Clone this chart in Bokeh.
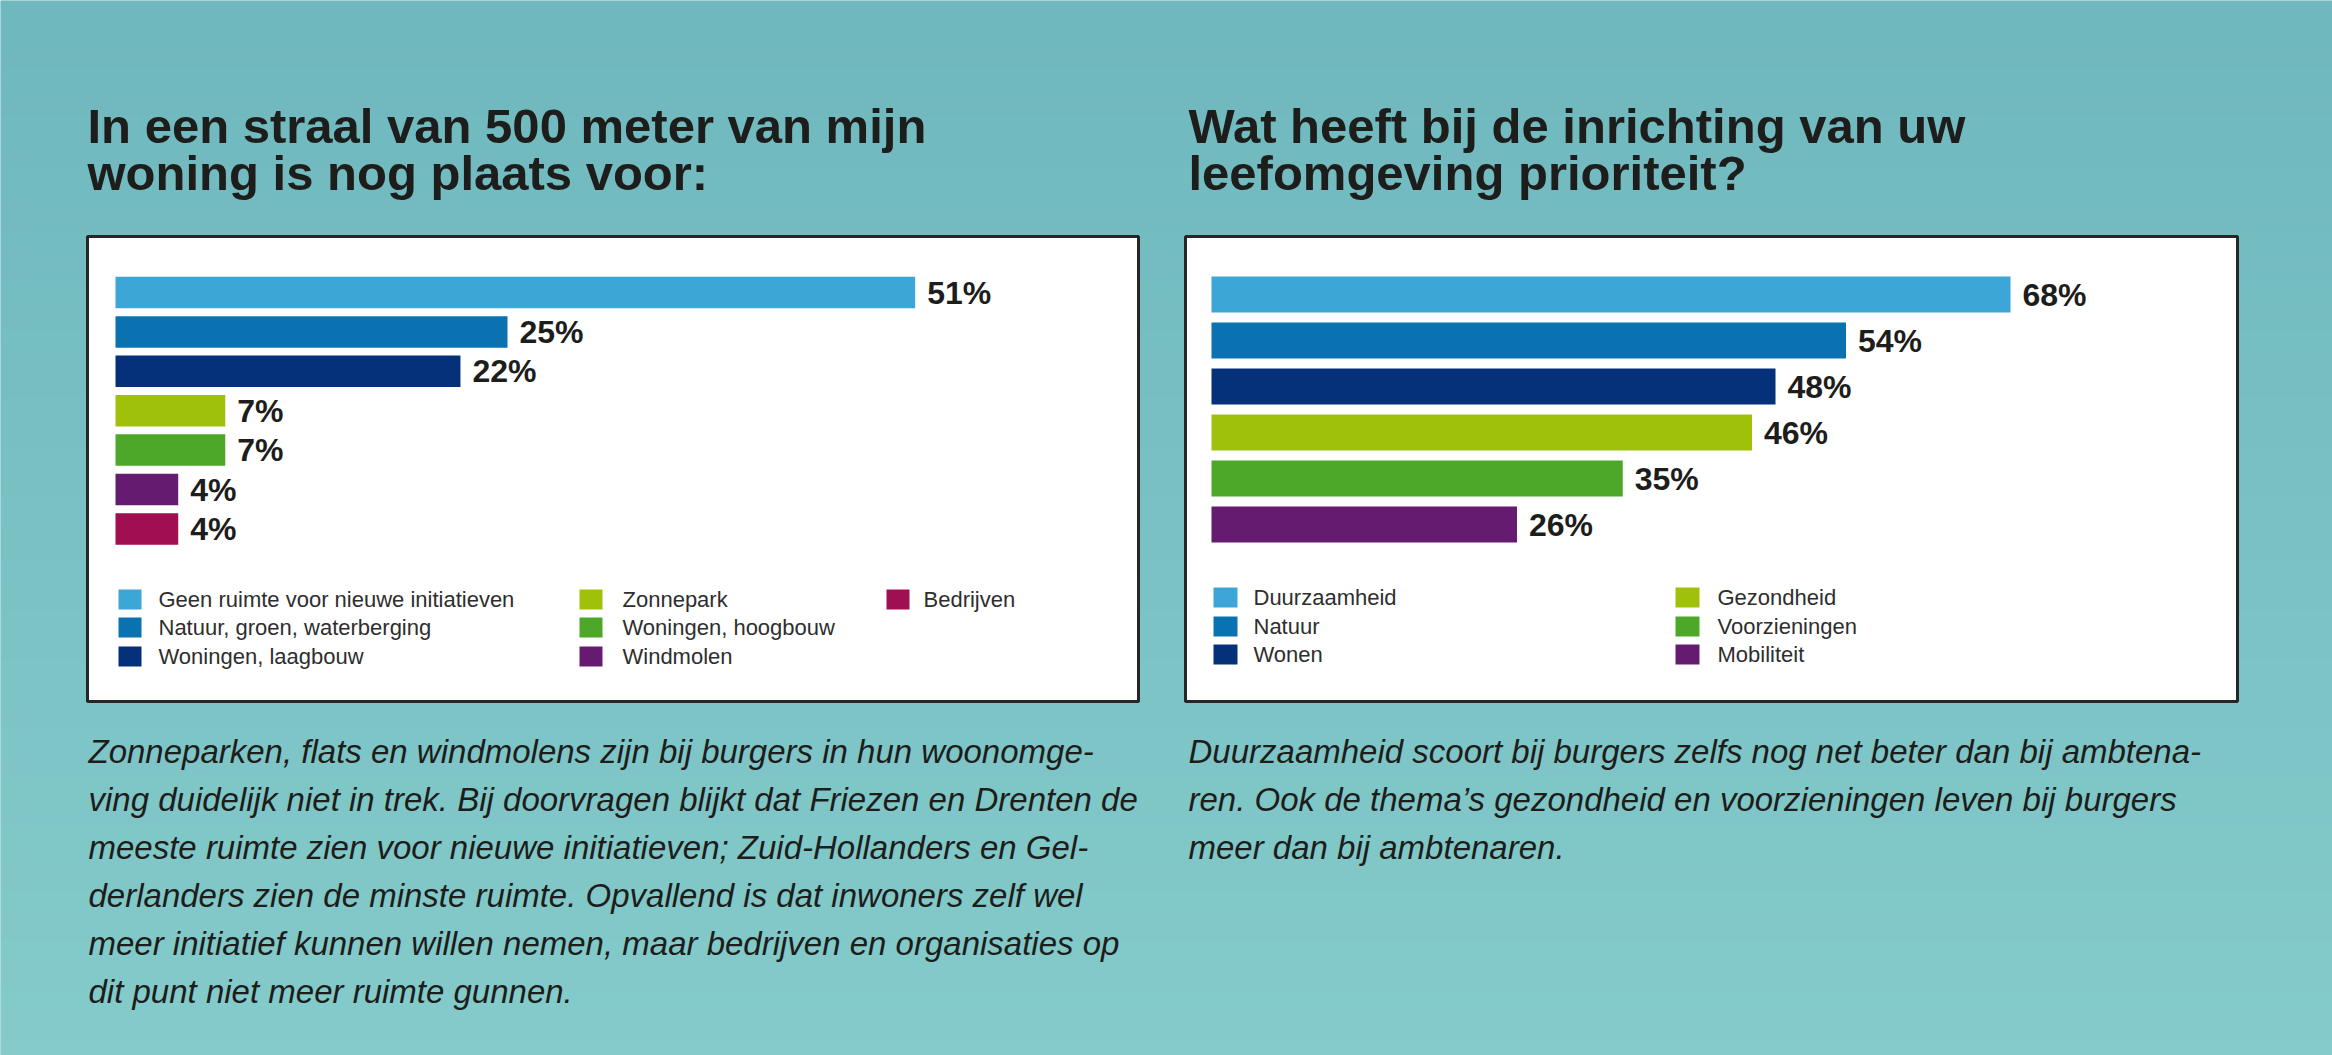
import numpy as np
from bokeh.plotting import figure
from bokeh.models import Range1d
from bokeh.core.properties import value
from bokeh.embed import file_html
from bokeh.resources import INLINE

# ---------------- data ----------------
left_title = ["In een straal van 500 meter van mijn", "woning is nog plaats voor:"]
left_categories = ["Geen ruimte voor nieuwe initiatieven", "Natuur, groen, waterberging",
                   "Woningen, laagbouw", "Zonnepark", "Woningen, hoogbouw",
                   "Windmolen", "Bedrijven"]
left_values = [51, 25, 22, 7, 7, 4, 4]
left_colors = ["#3ca6d6", "#0a72b0", "#04317a", "#9fc10a", "#4da82a", "#651c70", "#a10f53"]

right_title = ["Wat heeft bij de inrichting van uw", "leefomgeving prioriteit?"]
right_categories = ["Duurzaamheid", "Natuur", "Wonen", "Gezondheid", "Voorzieningen", "Mobiliteit"]
right_values = [68, 54, 48, 46, 35, 26]
right_colors = ["#3ca6d6", "#0a72b0", "#04317a", "#9fc10a", "#4da82a", "#651c70"]

left_text = [
    "Zonneparken, flats en windmolens zijn bij burgers in hun woonomge-",
    "ving duidelijk niet in trek. Bij doorvragen blijkt dat Friezen en Drenten de",
    "meeste ruimte zien voor nieuwe initiatieven; Zuid-Hollanders en Gel-",
    "derlanders zien de minste ruimte. Opvallend is dat inwoners zelf wel",
    "meer initiatief kunnen willen nemen, maar bedrijven en organisaties op",
    "dit punt niet meer ruimte gunnen.",
]
right_text = [
    "Duurzaamheid scoort bij burgers zelfs nog net beter dan bij ambtena-",
    "ren. Ook de thema\u2019s gezondheid en voorzieningen leven bij burgers",
    "meer dan bij ambtenaren.",
]

# ---------------- canvas ----------------
OX, OY = 0, 0
W, H = 2332, 1055
FONT = value("Liberation Sans")
INK = "#1d1d1b"

p = figure(width=W, height=H, x_range=Range1d(OX, OX + W), y_range=Range1d(OY + H, OY),
           output_backend="svg", toolbar_location=None, min_border=0,
           x_axis_location=None, y_axis_location=None)
p.grid.visible = False
p.outline_line_color = None
p.background_fill_color = "#7bc1c5"
p.border_fill_color = "#7bc1c5"

# background gradient
n = 64
grad = np.zeros((n, 1), dtype=np.uint32)
view = grad.view(dtype=np.uint8).reshape((n, 1, 4))
top_c = np.array([111, 184, 190])
bot_c = np.array([133, 203, 203])
for i in range(n):
    t = i / (n - 1)
    c = top_c + (bot_c - top_c) * t
    view[i, 0, :3] = c.astype(np.uint8)
    view[i, 0, 3] = 255
p.image_rgba(image=[grad], x=OX, y=OY, dw=W, dh=H)

# panels
p.quad(left=[87, 1185], right=[1138, 2237], top=[236, 236], bottom=[701, 701],
       fill_color="white", line_color="#262626", line_width=3)

# titles (vertical centre of capitals given)
for lines, x0 in ((left_title, 87), (right_title, 1188)):
    p.text(x=[x0] * len(lines), y=[125 + 47 * i for i in range(len(lines))], text=lines,
           text_font=FONT, text_font_size="49px", text_font_style="bold",
           text_color=INK, text_baseline="middle")

# body texts
for lines, x0 in ((left_text, 88), (right_text, 1188)):
    p.text(x=[x0] * len(lines), y=[751 + 48 * i for i in range(len(lines))], text=lines,
           text_font=FONT, text_font_size="33px", text_font_style="italic",
           text_color=INK, text_baseline="middle")


def bar_chart(name, values, colors, x0_px, px_per_pct, y0_px, pitch, bar_px):
    p.extra_x_ranges[name] = Range1d((OX - x0_px) / px_per_pct, (OX + W - x0_px) / px_per_pct)
    p.extra_y_ranges[name] = Range1d((OY + H - y0_px) / pitch, (OY - y0_px) / pitch)
    idx = list(range(len(values)))
    p.hbar(y=idx, left=0, right=values, height=bar_px / pitch, fill_color=colors,
           line_color=None, x_range_name=name, y_range_name=name)
    p.text(x=values, y=idx, text=[f"{v}%" for v in values], x_offset=12, y_offset=0,
           text_font=FONT, text_font_size="32px", text_font_style="bold",
           text_color=INK, text_baseline="middle", x_range_name=name, y_range_name=name)


bar_chart("L", left_values, left_colors, 115, 15.68, 292, 39.4, 31.5)
bar_chart("R", right_values, right_colors, 1211, 11.75, 294, 46, 36)


def legend(cats, colors, col_x, text_x, row_y, sq_w):
    xs, ys, tx = [], [], []
    for i in range(len(cats)):
        c, r = divmod(i, 3)
        xs.append(col_x[c] + sq_w / 2)
        ys.append(row_y[r])
        tx.append(text_x[c])
    p.rect(x=xs, y=ys, width=sq_w, height=20, fill_color=colors, line_color=None)
    p.text(x=tx, y=ys, text=cats, text_font=FONT, text_font_size="22px",
           text_color="#2e2e2e", text_baseline="middle")


legend(left_categories, left_colors, [118, 579, 886], [158, 622, 923], [599, 627, 656], 23)
legend(right_categories, right_colors, [1213, 1675], [1253, 1717], [597, 626, 654], 24)

open("out.html", "w").write(file_html(p, INLINE))
